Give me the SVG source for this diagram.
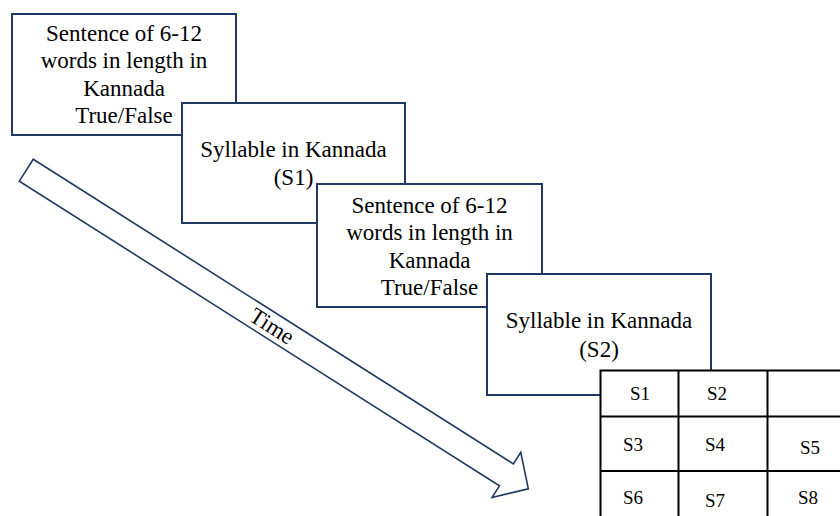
<svg xmlns="http://www.w3.org/2000/svg" width="840" height="516" viewBox="0 0 840 516">
<style>
.box{fill:#fff;stroke:#203864;stroke-width:2}
.t{font-family:'Liberation Serif','DejaVu Serif',serif;font-size:23px;fill:#000;text-anchor:middle}
.c{font-family:'Liberation Serif','DejaVu Serif',serif;font-size:19px;fill:#000}
.grid{fill:none;stroke:#000;stroke-width:2}
.arrow{fill:#fff;stroke:#203864;stroke-width:1.6;stroke-linejoin:miter}
</style>
<rect width="840" height="516" fill="#fff"/>
<g id="connectors">
<g transform="translate(26.3,170.2) rotate(32.4)">
<path class="arrow" d="M0,-13 L568.6,-13 L568.6,-26.8 L594.6,0 L568.6,26.8 L568.6,13 L0,13 Z"/>
<text class="t" x="291" y="7.5" font-family="Liberation Serif, serif">Time</text>
</g>
</g>
<g id="node1">
<rect class="box" x="12" y="14" width="224" height="121"/>
<text class="t" x="124" y="40.7">Sentence of 6-12</text>
<text class="t" x="124" y="68">words in length in</text>
<text class="t" x="124" y="95.5">Kannada</text>
<text class="t" x="124" y="122.7">True/False</text>
</g>
<g id="node2">
<rect class="box" x="182" y="103" width="223" height="120"/>
<text class="t" x="293.5" y="157">Syllable in Kannada</text>
<text class="t" x="293.5" y="185">(S1)</text>
</g>
<g id="node3">
<rect class="box" x="317" y="184" width="225" height="123"/>
<text class="t" x="429.5" y="212.7">Sentence of 6-12</text>
<text class="t" x="429.5" y="240">words in length in</text>
<text class="t" x="429.5" y="267.5">Kannada</text>
<text class="t" x="429.5" y="295">True/False</text>
</g>
<g id="node4">
<rect class="box" x="487" y="274" width="224" height="121"/>
<text class="t" x="599" y="328">Syllable in Kannada</text>
<text class="t" x="599" y="357">(S2)</text>
</g>
<g id="grid">
<rect x="600" y="370" width="260" height="160" fill="#fff"/>
<path class="grid" d="M860,370.5 H600.5 V530 M678.5,370 V530 M767.5,370 V530 M600,416.5 H860 M600,471 H860"/>
<text class="c" x="630" y="400">S1</text>
<text class="c" x="707" y="400">S2</text>
<text class="c" x="623" y="451">S3</text>
<text class="c" x="705" y="451">S4</text>
<text class="c" x="800" y="454">S5</text>
<text class="c" x="623" y="504">S6</text>
<text class="c" x="705" y="507">S7</text>
<text class="c" x="798" y="504">S8</text>
</g>
</svg>
